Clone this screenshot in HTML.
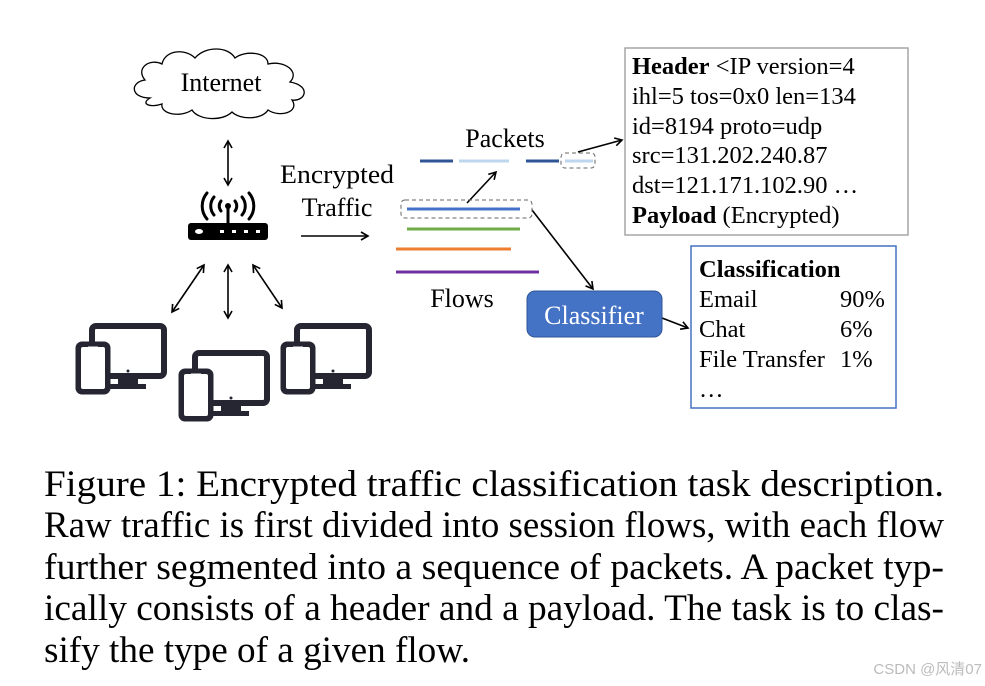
<!DOCTYPE html>
<html><head><meta charset="utf-8"><style>
body{margin:0;background:#fff;}
svg{display:block;font-family:"Liberation Serif",serif;}
</style></head><body>
<svg width="985" height="686" viewBox="0 0 985 686">
<defs>
<marker id="a" markerWidth="10" markerHeight="10" refX="8" refY="5" orient="auto-start-reverse" markerUnits="userSpaceOnUse"><path d="M1,1 L8,5 L1,9" fill="none" stroke="#000" stroke-width="1.6"/></marker>
<g id="dev">
<rect x="14" y="2" width="72" height="50" rx="4" fill="none" stroke="#262633" stroke-width="6"/>
<rect x="40" y="54" width="20" height="6" fill="#262633"/>
<rect x="32" y="60" width="36" height="5" fill="#262633"/>
<rect x="0" y="20" width="30" height="48" rx="4" fill="#fff" stroke="#262633" stroke-width="5"/>
<rect x="2" y="22" width="26" height="44" rx="3" fill="none" stroke="#262633" stroke-width="2"/>
<rect x="5" y="26" width="20" height="33" fill="#fff"/>
<rect x="10" y="22.5" width="10" height="2" fill="#fff"/>
<circle cx="15" cy="62" r="1.5" fill="#fff"/>
<circle cx="50" cy="47" r="1.5" fill="#262633"/>
</g>
</defs>
<!-- cloud -->
<path d="M150,98 C130,98 130,82 145,80 C135,68 150,58 162,64 C165,50 185,48 195,58 C205,46 228,46 235,58 C245,50 268,52 268,64 C285,60 300,72 290,82 C312,86 305,102 292,100 C300,112 280,118 268,110 C262,120 240,120 232,112 C222,122 198,120 192,110 C180,118 160,114 162,104 C150,108 140,104 150,98 Z" fill="#fff" stroke="#000" stroke-width="1.3"/>
<text x="221" y="91" font-size="26" text-anchor="middle">Internet</text>
<!-- arrows -->
<g stroke="#000" stroke-width="1.6" fill="none">
<line x1="228" y1="141" x2="228" y2="185" marker-start="url(#a)" marker-end="url(#a)"/>
<line x1="204" y1="265" x2="172" y2="312" marker-start="url(#a)" marker-end="url(#a)"/>
<line x1="228" y1="265" x2="228" y2="318" marker-start="url(#a)" marker-end="url(#a)"/>
<line x1="253" y1="265" x2="282" y2="308" marker-start="url(#a)" marker-end="url(#a)"/>
<line x1="301" y1="236" x2="368" y2="236" marker-end="url(#a)"/>
<line x1="467" y1="203" x2="496" y2="172" marker-end="url(#a)"/>
<line x1="532" y1="210" x2="593" y2="289" marker-end="url(#a)"/>
<line x1="578" y1="152" x2="622" y2="140" marker-end="url(#a)"/>
<line x1="662" y1="318" x2="688" y2="328" marker-end="url(#a)"/>
</g>
<!-- router -->
<rect x="188" y="223" width="80" height="17" rx="3" fill="#000"/>
<ellipse cx="199" cy="231.5" rx="4" ry="2.5" fill="#fff"/>
<g fill="#fff"><rect x="220" y="230" width="4" height="3"/><rect x="232" y="230" width="4" height="3"/><rect x="244" y="230" width="4" height="3"/><rect x="256" y="230" width="4" height="3"/></g>
<rect x="226.5" y="205" width="3" height="18" fill="#000"/>
<circle cx="228" cy="206" r="3" fill="#000"/>
<g fill="none" stroke="#000" stroke-width="3" stroke-linecap="round">
<path d="M221,201 A8,8 0 0,0 221,211"/><path d="M235,201 A8,8 0 0,1 235,211"/>
<path d="M214,197 A14,14 0 0,0 214,215"/><path d="M242,197 A14,14 0 0,1 242,215"/>
<path d="M207,193 A20,20 0 0,0 207,219"/><path d="M249,193 A20,20 0 0,1 249,219"/>
</g>
<!-- devices -->
<use href="#dev" transform="translate(78,324)"/>
<use href="#dev" transform="translate(181,351)"/>
<use href="#dev" transform="translate(283,324)"/>
<text x="337" y="183" font-size="26" text-anchor="middle" textLength="114" lengthAdjust="spacingAndGlyphs">Encrypted</text>
<text x="337" y="216" font-size="26" text-anchor="middle">Traffic</text>
<text x="505" y="147" font-size="26" text-anchor="middle">Packets</text>
<text x="462" y="307" font-size="26" text-anchor="middle">Flows</text>
<!-- packets -->
<g stroke-width="3">
<line x1="420" y1="161" x2="453" y2="161" stroke="#2f5597"/>
<line x1="459" y1="161" x2="509" y2="161" stroke="#bdd7ee"/>
<line x1="526" y1="161" x2="559" y2="161" stroke="#2f5597"/>
<line x1="565" y1="161" x2="593" y2="161" stroke="#bdd7ee"/>
<line x1="407" y1="209" x2="520" y2="209" stroke="#4472c4"/>
<line x1="407" y1="229" x2="520" y2="229" stroke="#70ad47"/>
<line x1="396" y1="249" x2="511" y2="249" stroke="#ed7d31"/>
<line x1="396" y1="272" x2="539" y2="272" stroke="#7030a0"/>
</g>
<rect x="561" y="153" width="34" height="15" rx="4" fill="none" stroke="#666" stroke-dasharray="4,3"/>
<rect x="401" y="200" width="131" height="18" rx="4" fill="none" stroke="#666" stroke-dasharray="4,3"/>
<!-- classifier -->
<rect x="527" y="291" width="135" height="46" rx="8" fill="#4472c4" stroke="#2f5597"/>
<text x="594" y="324" font-size="26" fill="#fff" text-anchor="middle">Classifier</text>
<!-- header box -->
<rect x="625" y="48" width="283" height="187" fill="#fff" stroke="#a6a6a6" stroke-width="1.5"/>
<g font-size="24.5">
<text x="632" y="74"><tspan font-weight="bold">Header</tspan> &lt;IP version=4</text>
<text x="632" y="104">ihl=5 tos=0x0 len=134</text>
<text x="632" y="134">id=8194 proto=udp</text>
<text x="632" y="163">src=131.202.240.87</text>
<text x="632" y="193">dst=121.171.102.90 …</text>
<text x="632" y="223"><tspan font-weight="bold">Payload</tspan> (Encrypted)</text>
</g>
<rect x="691" y="246" width="205" height="162" fill="#fff" stroke="#4472c4" stroke-width="1.5"/>
<g font-size="24.5">
<text x="699" y="277" font-weight="bold">Classification</text>
<text x="699" y="307">Email</text><text x="840" y="307">90%</text>
<text x="699" y="337">Chat</text><text x="840" y="337">6%</text>
<text x="699" y="367">File Transfer</text><text x="840" y="367">1%</text>
<text x="699" y="397">…</text>
</g>
<!-- caption -->
<g font-size="37">
<text x="44" y="496" textLength="900" lengthAdjust="spacingAndGlyphs">Figure 1: Encrypted traffic classification task description.</text>
<text x="44" y="537" textLength="900" lengthAdjust="spacingAndGlyphs">Raw traffic is first divided into session flows, with each flow</text>
<text x="44" y="579" textLength="900" lengthAdjust="spacingAndGlyphs">further segmented into a sequence of packets. A packet typ-</text>
<text x="44" y="620" textLength="900" lengthAdjust="spacingAndGlyphs">ically consists of a header and a payload. The task is to clas-</text>
<text x="44" y="662" textLength="426" lengthAdjust="spacingAndGlyphs">sify the type of a given flow.</text>
</g>
<text x="982" y="674" font-size="15" fill="#bbb" text-anchor="end" font-family="Liberation Sans, Noto Sans CJK SC, sans-serif">CSDN @风清07</text>
</svg>
</body></html>
